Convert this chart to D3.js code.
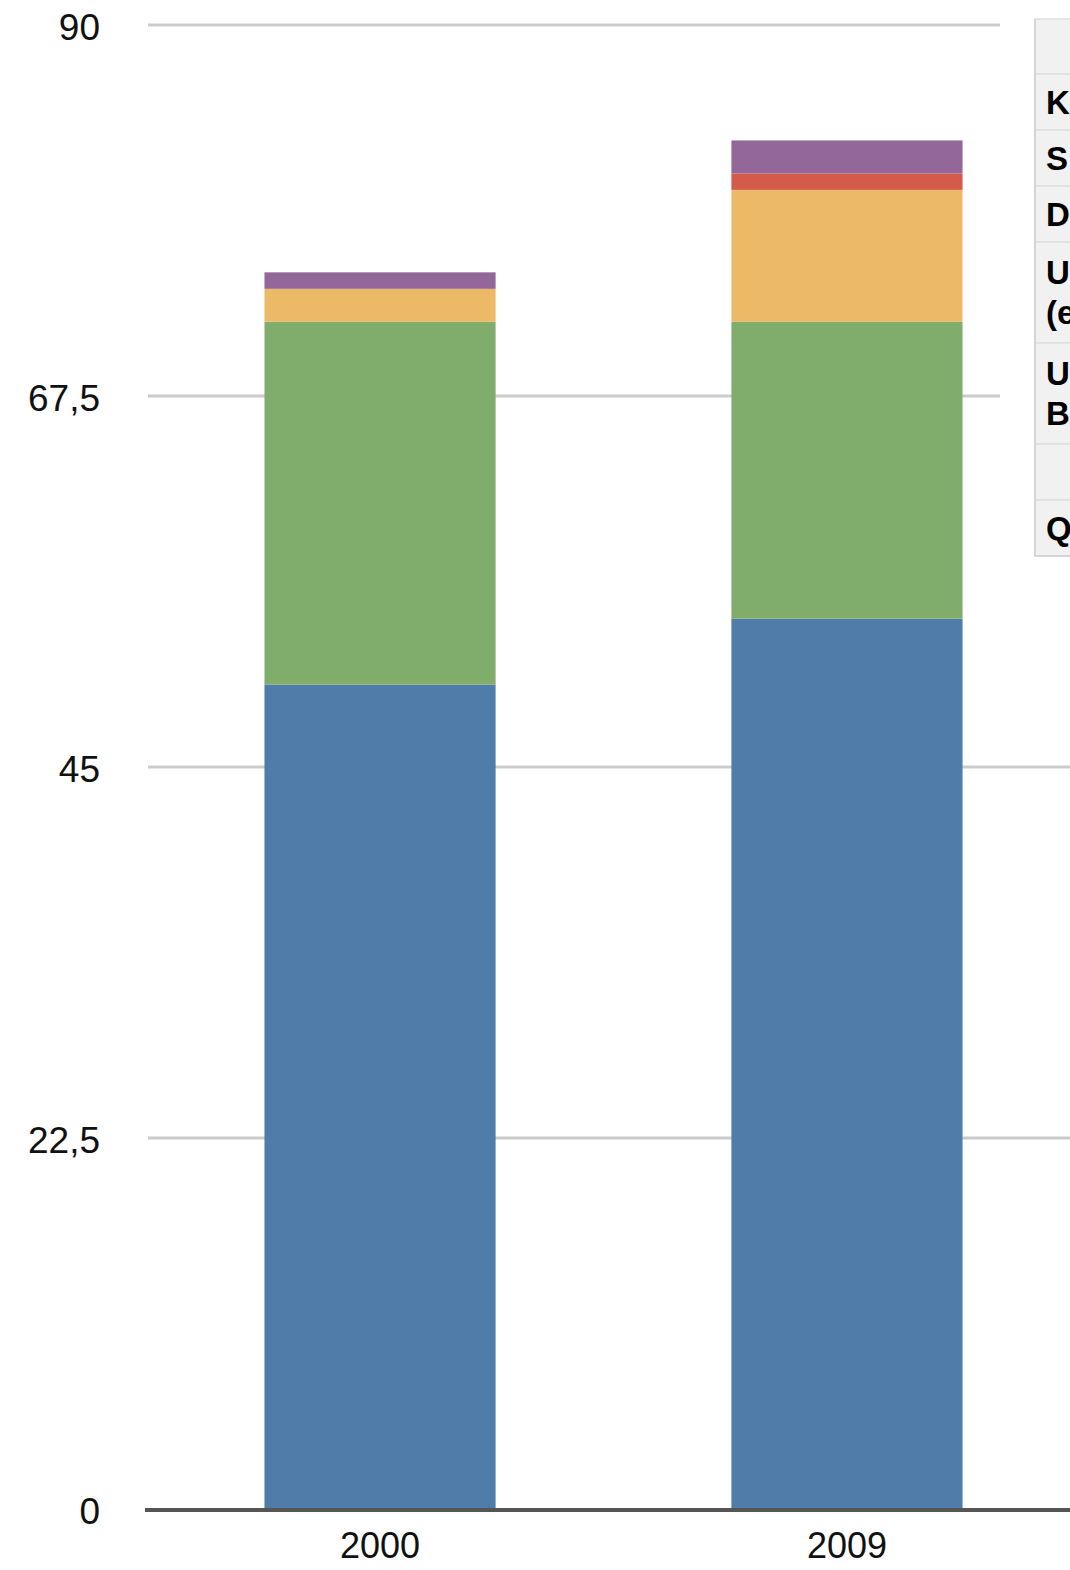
<!DOCTYPE html>
<html>
<head>
<meta charset="utf-8">
<script src="https://cdn.jsdelivr.net/npm/d3@7"></script>
<style>
  html, body { margin: 0; padding: 0; background: #fff; overflow: hidden; }
  svg { display: block; }
</style>
</head>
<body>
<script>
// ---- data ----
const categories = ["2000", "2009"];
const seriesNames = ["s1", "s2", "s3", "s4", "s5"];
const seriesColors = ["#4f7ca8", "#80ac6c", "#ecba66", "#d45b4a", "#93679a"];
const s1 = [50, 54];
const s2 = [22, 18];
const s3 = [2, 8];
const s4 = [0, 1];
const s5 = [1, 2];
const yTicks = [0, 22.5, 45, 67.5, 90];
const yTickLabels = ["0", "22,5", "45", "67,5", "90"];
const tableRows = [[""], ["K"], ["S"], ["D"], ["U", "(e"], ["U", "B"], [""], ["Q"]];

// ---- build ----
const W = 1070, H = 1570;
const svg = d3.select("body").append("svg").attr("width", W).attr("height", H);

const y = d3.scaleLinear().domain([0, 90]).range([1509, 25]);
const x = d3.scaleBand().domain(categories).range([31, 1196]).paddingInner(0.505).paddingOuter(0.5);

const rows = categories.map((c, i) => {
  const o = { cat: c };
  [s1, s2, s3, s4, s5].forEach((s, k) => o[seriesNames[k]] = s[i]);
  return o;
});
const stacked = d3.stack().keys(seriesNames)(rows);

// table geometry (computed first so gridlines can stop before it)
const tx = 1035, tTop = 19;
const rowH = tableRows.map((lines, i) => i === 0 ? 55 : (lines.length > 1 ? 101 : 56));
const tBottom = tTop + d3.sum(rowH);

// gridlines
svg.append("g").selectAll("line").data(yTicks.filter(d => d > 0)).join("line")
  .attr("x1", 148)
  .attr("x2", d => (y(d) >= tTop - 10 && y(d) <= tBottom + 10) ? 1000 : W)
  .attr("y1", d => y(d)).attr("y2", d => y(d))
  .attr("stroke", "#cbcbcb").attr("stroke-width", 3);

// bars
svg.append("g").selectAll("g").data(stacked).join("g")
  .attr("fill", (d, i) => seriesColors[i])
  .selectAll("rect").data(d => d).join("rect")
  .attr("x", d => x(d.data.cat))
  .attr("width", x.bandwidth())
  .attr("y", d => y(d[1]))
  .attr("height", d => Math.max(0, y(d[0]) - y(d[1])));

// baseline axis
svg.append("line").attr("x1", 145).attr("x2", W)
  .attr("y1", y(0) + 1).attr("y2", y(0) + 1)
  .attr("stroke", "#555").attr("stroke-width", 4);

// y tick labels
const yAxis = d3.axisLeft(y).tickValues(yTicks).tickFormat((d, i) => yTickLabels[i]).tickSize(0).tickPadding(0);
const ya = svg.append("g").attr("transform", "translate(100,0)").call(yAxis);
ya.select(".domain").remove();
ya.selectAll("text").attr("font-family", "Liberation Sans, Arial, sans-serif")
  .attr("font-size", 37).attr("fill", "#111").attr("dy", "0.4em");

// x tick labels
const xAxis = d3.axisBottom(x).tickSize(0).tickPadding(0);
const xa = svg.append("g").attr("transform", "translate(0,1532)").call(xAxis);
xa.select(".domain").remove();
xa.selectAll("text").attr("font-family", "Liberation Sans, Arial, sans-serif")
  .attr("font-size", 36).attr("fill", "#111").attr("dy", "0.71em");

// legend table (cut off at the right edge)
const tg = svg.append("g");
let ty = tTop;
tableRows.forEach((lines, i) => {
  const h = rowH[i];
  tg.append("rect").attr("x", tx).attr("y", ty).attr("width", 80).attr("height", h)
    .attr("fill", "#f1f1f1").attr("stroke", "#dedede").attr("stroke-width", 1.5);
  const n = lines.length;
  lines.forEach((t, j) => {
    tg.append("text").attr("x", tx + 11)
      .attr("y", ty + h / 2 + (j - (n - 1) / 2) * 40)
      .attr("dy", "0.36em")
      .attr("font-family", "Liberation Sans, Arial, sans-serif")
      .attr("font-weight", "bold").attr("font-size", 33).attr("fill", "#000")
      .text(t);
  });
  ty += h;
});
tg.append("line").attr("x1", tx).attr("x2", tx).attr("y1", tTop).attr("y2", ty)
  .attr("stroke", "#d0d0d0").attr("stroke-width", 1.5);
tg.append("line").attr("x1", tx).attr("x2", W).attr("y1", ty).attr("y2", ty)
  .attr("stroke", "#d0d0d0").attr("stroke-width", 1.5);
</script>
</body>
</html>
